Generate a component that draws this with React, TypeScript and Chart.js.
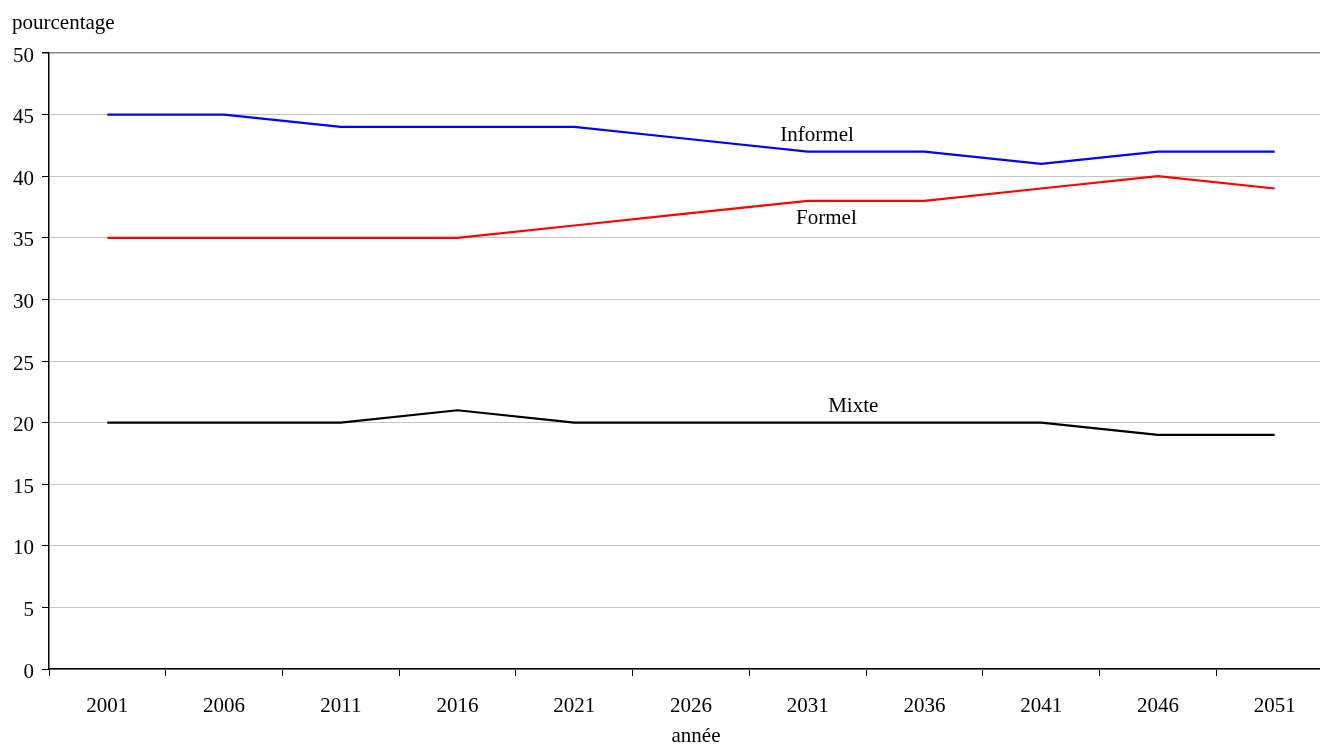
import React, { useEffect, useRef } from "react";
import { Chart, registerables } from "chart.js";

Chart.register(...registerables);

const years = ["2001", "2006", "2011", "2016", "2021", "2026", "2031", "2036", "2041", "2046", "2051"];
const informel = [45, 45, 44, 44, 44, 43, 42, 42, 41, 42, 42];
const formel = [35, 35, 35, 35, 36, 37, 38, 38, 39, 40, 39];
const mixte = [20, 20, 20, 21, 20, 20, 20, 20, 20, 19, 19];

const seriesNames = ["Informel", "Formel", "Mixte"];
const seriesColors = ["#0000ff", "#ff0000", "#000000"];
// label anchors in data units: [category index, baseline value]
const labelAnchors: [number, number][] = [
  [6.08, 42.85],
  [6.16, 36.1],
  [6.39, 20.9],
];

const FONT = "'Liberation Serif', 'Times New Roman', serif";

const textPlugin = {
  id: "textLabels",
  afterDraw(chart: any) {
    const { ctx, scales } = chart;
    ctx.save();
    ctx.fillStyle = "#000";
    ctx.font = `21px ${FONT}`;
    ctx.textBaseline = "alphabetic";
    ctx.textAlign = "left";
    ctx.fillText("pourcentage", 12, 29);
    ctx.textAlign = "center";
    ctx.fillText("année", 696, 742);
    seriesNames.forEach((name, i) => {
      const [cx, cy] = labelAnchors[i];
      ctx.fillText(name, scales.x.getPixelForValue(cx), scales.y.getPixelForValue(cy));
    });
    ctx.restore();
  },
};

export default function App() {
  const ref = useRef<HTMLCanvasElement>(null);

  useEffect(() => {
    if (!ref.current) return;
    const data = [informel, formel, mixte];
    const chart = new Chart(ref.current, {
      type: "line",
      data: {
        labels: years,
        datasets: seriesNames.map((name, i) => ({
          label: name,
          data: data[i],
          borderColor: seriesColors[i],
          backgroundColor: seriesColors[i],
          borderWidth: 2.2,
          pointRadius: 0,
          tension: 0,
        })),
      },
      options: {
        responsive: false,
        animation: false,
        layout: { padding: { top: 53, left: 0, right: 0, bottom: 0 } },
        plugins: { legend: { display: false }, tooltip: { enabled: false } },
        scales: {
          x: {
            type: "category",
            offset: true,
            afterFit: (s: any) => {
              s.height = 75;
            },
            grid: {
              offset: true,
              drawOnChartArea: false,
              drawTicks: true,
              tickLength: 7,
              tickColor: "#000",
            },
            border: { color: "#000", width: 1.5 },
            ticks: {
              color: "#000",
              font: { family: FONT, size: 21 },
              padding: 18,
              maxRotation: 0,
            },
          },
          y: {
            min: 0,
            max: 50,
            afterFit: (s: any) => {
              s.width = 49;
            },
            grid: {
              color: (c: any) => (c.tick && c.tick.value === 50 ? "#888888" : "#c4c4c4"),
              lineWidth: (c: any) => (c.tick && c.tick.value === 50 ? 1.5 : 1),
              drawTicks: true,
              tickLength: 7,
              tickColor: "#000",
            },
            border: { color: "#000", width: 1.5 },
            ticks: {
              stepSize: 5,
              color: "#000",
              font: { family: FONT, size: 21 },
              padding: 8,
              labelOffset: 3,
            },
          },
        },
      },
      plugins: [textPlugin],
    });
    return () => chart.destroy();
  }, []);

  return (
    <div style={{ position: "fixed", left: 0, top: 0, width: 1320, height: 744, overflow: "hidden", background: "#fff" }}>
      <canvas ref={ref} width={1333} height={744} style={{ display: "block" }} />
    </div>
  );
}
